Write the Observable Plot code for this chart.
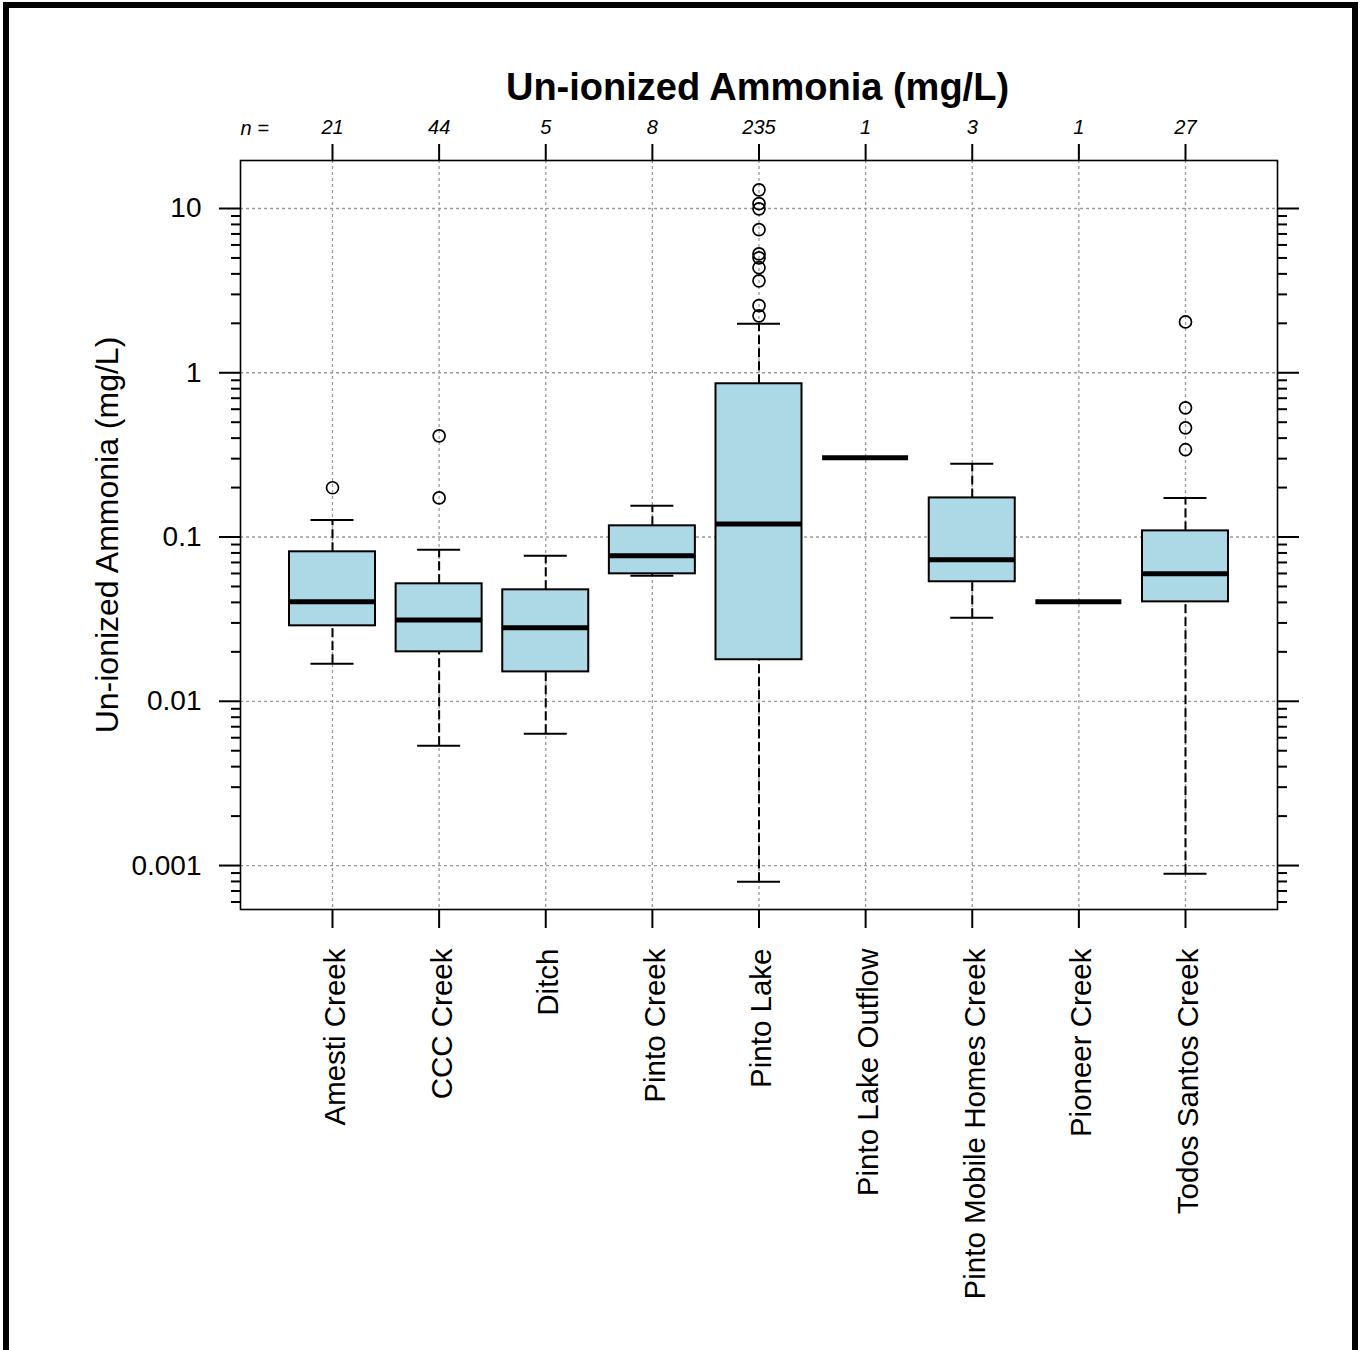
<!DOCTYPE html>
<html>
<head>
<meta charset="utf-8">
<script src="https://cdn.jsdelivr.net/npm/d3@7"></script>
<script src="https://cdn.jsdelivr.net/npm/@observablehq/plot@0.6"></script>
<style>
  body { margin: 0; background: white; }
  #wrap { position: relative; width: 1360px; height: 1350px; overflow: hidden; background: white; font-family: "Liberation Sans", Arial, sans-serif; }
  #chart { position: absolute; left: 0; top: 0; }
  #title { position: absolute; left: 0; top: 68px; width: 1515px; text-align: center; font-weight: bold; font-size: 38px; line-height: 38px; color: black; }
  #border { position: absolute; left: 3px; top: 2px; width: 1355px; height: 1400px; border: 6px solid black; box-sizing: border-box; pointer-events: none; }
</style>
</head>
<body>
<div id="wrap">
  <div id="chart"></div>
  <div id="title">Un-ionized Ammonia (mg/L)</div>
  <div id="border"></div>
</div>
<script>
// ---- Data ----
const sites = ["Amesti Creek", "CCC Creek", "Ditch", "Pinto Creek", "Pinto Lake",
  "Pinto Lake Outflow", "Pinto Mobile Homes Creek", "Pioneer Creek", "Todos Santos Creek"];
const nObs = [21, 44, 5, 8, 235, 1, 3, 1, 27];
const whiskerLow  = [0.0169, 0.00536, 0.00634, 0.0581, 0.000796, 0.304, 0.0322, 0.0403, 0.000891];
const q1          = [0.0288, 0.0200, 0.0151, 0.0597, 0.0179, 0.304, 0.0534, 0.0403, 0.0403];
const median      = [0.0403, 0.0313, 0.0280, 0.0769, 0.120, 0.304, 0.0727, 0.0403, 0.0597];
const q3          = [0.0813, 0.0519, 0.0477, 0.117, 0.857, 0.304, 0.173, 0.0403, 0.109];
const whiskerHigh = [0.127, 0.0836, 0.0769, 0.155, 1.99, 0.304, 0.279, 0.0403, 0.173];

const outlierSite = ["Amesti Creek", "CCC Creek", "CCC Creek",
  "Pinto Lake", "Pinto Lake", "Pinto Lake", "Pinto Lake", "Pinto Lake", "Pinto Lake",
  "Pinto Lake", "Pinto Lake", "Pinto Lake", "Pinto Lake",
  "Todos Santos Creek", "Todos Santos Creek", "Todos Santos Creek", "Todos Santos Creek"];
const outlierValue = [0.1995, 0.413, 0.173,
  13.0, 10.7, 9.96, 7.43, 5.30, 5.01, 4.36, 3.63, 2.56, 2.22,
  2.04, 0.612, 0.462, 0.340];

const yMajorTicks = [0.001, 0.01, 0.1, 1, 10];
const yTickLabels = ["0.001", "0.01", "0.1", "1", "10"];
const yDomain = [0.00054, 19.6];

// ---- Build tables ----
const boxes = sites.map((s, i) => ({
  site: s, n: nObs[i], lo: whiskerLow[i], q1: q1[i], med: median[i], q3: q3[i], hi: whiskerHigh[i]
}));
const outliers = outlierSite.map((s, i) => ({site: s, value: outlierValue[i]}));
const nBySite = new Map(sites.map((s, i) => [s, String(nObs[i])]));
const labelByTick = new Map(yMajorTicks.map((t, i) => [t, yTickLabels[i]]));

const minorTicks = [];
for (let e = -4; e <= 1; e++) {
  for (let k = 2; k <= 9; k++) {
    const v = +(k * Math.pow(10, e)).toPrecision(6);
    if (v >= yDomain[0] && v <= yDomain[1]) minorTicks.push(v);
  }
}

const font = "Liberation Sans, Arial, sans-serif";
const gridStyle = {stroke: "#9a9a9a", strokeOpacity: 1, strokeWidth: 1.3, strokeDasharray: "3,3"};

const chart = Plot.plot({
  width: 1360,
  height: 1350,
  marginLeft: 240,
  marginRight: 83,
  marginTop: 160,
  marginBottom: 441,
  style: {fontFamily: font, background: "white", color: "black"},
  x: {type: "band", domain: sites, paddingInner: 0.1934, paddingOuter: 0.4596, round: false},
  y: {type: "log", domain: yDomain},
  marks: [
    Plot.gridY(yMajorTicks, gridStyle),
    Plot.gridX(sites, gridStyle),
    // whiskers
    Plot.ruleX(boxes, {x: "site", y1: "q3", y2: "hi", stroke: "black", strokeWidth: 2, strokeDasharray: "9,4"}),
    Plot.ruleX(boxes, {x: "site", y1: "lo", y2: "q1", stroke: "black", strokeWidth: 2, strokeDasharray: "9,4"}),
    // boxes
    Plot.barY(boxes, {x: "site", y1: "q1", y2: "q3", fill: "#add8e6", stroke: "black", strokeWidth: 2}),
    // whisker caps
    Plot.tickY(boxes, {x: "site", y: "hi", insetLeft: 21.5, insetRight: 21.5, stroke: "black", strokeWidth: 2}),
    Plot.tickY(boxes, {x: "site", y: "lo", insetLeft: 21.5, insetRight: 21.5, stroke: "black", strokeWidth: 2}),
    // medians
    Plot.tickY(boxes, {x: "site", y: "med", stroke: "black", strokeWidth: 5}),
    // outliers
    Plot.dot(outliers, {x: "site", y: "value", r: 6, stroke: "black", strokeWidth: 1.7, fill: "none"}),
    Plot.frame({stroke: "black", strokeWidth: 1.6}),
    // left y axis
    Plot.axisY({anchor: "left", ticks: yMajorTicks, tickSize: 21, tickPadding: 18, strokeWidth: 2,
      tickFormat: (d) => labelByTick.get(d), fontSize: 28, label: null}),
    Plot.axisY({anchor: "left", ticks: minorTicks, tickSize: 9, strokeWidth: 2, tickFormat: () => "", label: null}),
    // right y axis (ticks only)
    Plot.axisY({anchor: "right", ticks: yMajorTicks, tickSize: 21, strokeWidth: 2, tickFormat: () => "", label: null}),
    Plot.axisY({anchor: "right", ticks: minorTicks, tickSize: 9, strokeWidth: 2, tickFormat: () => "", label: null}),
    // top axis: n per group
    Plot.axisX({anchor: "top", tickSize: 17, tickPadding: 10, strokeWidth: 2, tickFormat: (d) => nBySite.get(d),
      fontSize: 20, fontStyle: "italic", label: null}),
    Plot.text(["n ="], {frameAnchor: "top-left", dx: 0, dy: -40, textAnchor: "start", fontSize: 20, fontStyle: "italic"}),
    // bottom axis
    Plot.axisX({anchor: "bottom", tickSize: 19, strokeWidth: 2, tickFormat: () => "", label: null}),
    Plot.text(sites, {x: (d) => d, frameAnchor: "bottom", dx: 3, dy: 39, rotate: -90, textAnchor: "end",
      lineAnchor: "middle", fontSize: 29.5}),
    // y axis title
    Plot.text(["Un-ionized Ammonia (mg/L)"], {frameAnchor: "left", dx: -133, rotate: -90, textAnchor: "middle",
      lineAnchor: "middle", fontSize: 32})
  ]
});
document.getElementById("chart").appendChild(chart);
</script>
</body>
</html>
